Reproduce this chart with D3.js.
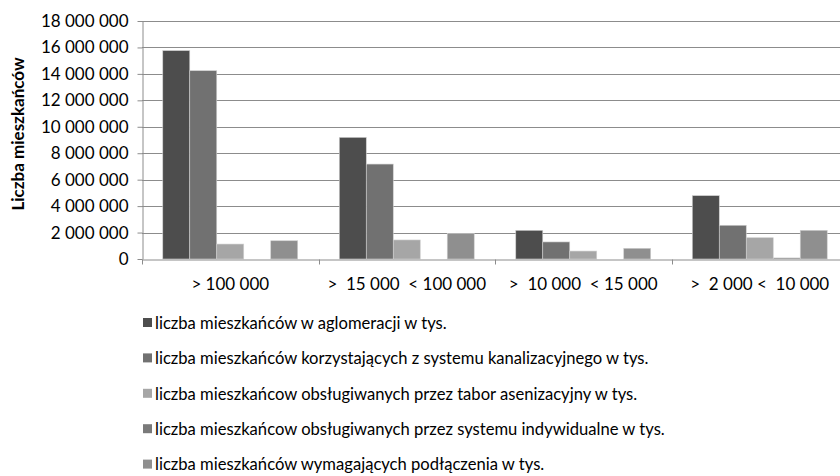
<!DOCTYPE html>
<html>
<head>
<meta charset="utf-8">
<script src="https://cdn.jsdelivr.net/npm/d3@7"></script>
<style>
  body { margin: 0; background: #fff; }
  svg { display: block; font-family: Lato, "Open Sans", sans-serif; }
  text { white-space: pre; }
</style>
</head>
<body>
<div id="chart"></div>
<script>
// categories and series
const categories = ['> 100 000', '>  15 000  < 100 000', '>  10 000  < 15 000', '>  2 000 <  10 000'];
const series_names = [
    'liczba mieszkańców w aglomeracji w tys.',
    'liczba mieszkańców korzystających z systemu kanalizacyjnego w tys.',
    'liczba mieszkańcow obsługiwanych przez tabor asenizacyjny w tys.',
    'liczba mieszkańcow obsługiwanych przez systemu indywidualne w tys.',
    'liczba mieszkańców wymagających podłączenia w tys.'
];
const aglomeracja = [15760000, 9200000, 2170000, 4790000];
const kanalizacja = [14240000, 7180000, 1290000, 2550000];
const tabor = [1130000, 1440000, 600000, 1610000];
const indywidualne = [0, 0, 0, 80000];
const podlaczenie = [1380000, 1940000, 810000, 2170000];
const y_ticks = [0, 2000000, 4000000, 6000000, 8000000, 10000000, 12000000, 14000000, 16000000, 18000000];
const colors = ['#4d4d4d', '#717171', '#a6a6a6', '#7a7a7a', '#8f8f8f'];

const all_series = [aglomeracja, kanalizacja, tabor, indywidualne, podlaczenie];

const width = 840, height = 476;
const margin = { top: 21, left: 142, bottom: 217 };
const plot_w = 706; // plot runs past the right edge, as in the picture
const plot_h = height - margin.top - margin.bottom;
const font_size = 17;

const svg = d3.select('#chart').append('svg')
    .attr('width', width)
    .attr('height', height);

const x = d3.scaleBand().domain(categories).range([margin.left, margin.left + plot_w]).paddingInner(0).paddingOuter(0);
const xs = d3.scaleBand().domain(d3.range(5)).range([0, x.bandwidth()]).paddingOuter(0.77).paddingInner(0);
const y = d3.scaleLinear().domain([0, 18000000]).range([margin.top + plot_h, margin.top]);

const fmt = v => d3.format(',')(v).replace(/,/g, ' ');

// gridlines
svg.append('g')
    .selectAll('line')
    .data(y_ticks.slice(1))
    .join('line')
    .attr('x1', margin.left).attr('x2', margin.left + plot_w)
    .attr('y1', d => Math.round(y(d)) + 0.5).attr('y2', d => Math.round(y(d)) + 0.5)
    .attr('stroke', '#8c8c8c').attr('stroke-width', 1);

// bars
const groups = svg.append('g')
    .selectAll('g')
    .data(categories)
    .join('g')
    .attr('transform', d => `translate(${x(d)},0)`);

groups.selectAll('rect')
    .data((d, i) => all_series.map((s, k) => ({ k: k, v: s[i] })))
    .join('rect')
    .attr('x', d => xs(d.k))
    .attr('width', xs.bandwidth())
    .attr('y', d => y(d.v))
    .attr('height', d => y(0) - y(d.v))
    .attr('fill', d => colors[d.k])
    .attr('stroke', '#d0d0d0')
    .attr('stroke-width', 0.6);

// y axis
const yAxis = svg.append('g')
    .attr('transform', `translate(${margin.left + 0.5},0)`)
    .call(d3.axisLeft(y).tickValues(y_ticks).tickFormat(fmt).tickSize(5).tickSizeOuter(0).tickPadding(9));
yAxis.select('.domain').attr('stroke', '#8c8c8c');
yAxis.selectAll('.tick line').attr('stroke', '#8c8c8c');
yAxis.selectAll('.tick text').attr('font-size', font_size).attr('fill', '#000')
    .attr('font-family', 'Lato, "Open Sans", sans-serif');

// x axis
const xAxis = svg.append('g')
    .attr('transform', `translate(0,${Math.round(y(0)) + 0.5})`)
    .call(d3.axisBottom(x).tickSize(0).tickSizeOuter(0).tickPadding(18));
xAxis.select('.domain').attr('stroke', '#8c8c8c');
xAxis.selectAll('.tick text').attr('font-size', font_size).attr('fill', '#000')
    .attr('font-family', 'Lato, "Open Sans", sans-serif');
// category separators
xAxis.append('g')
    .selectAll('line')
    .data(categories)
    .join('line')
    .attr('x1', d => Math.round(x(d)) + 0.5).attr('x2', d => Math.round(x(d)) + 0.5)
    .attr('y1', 0).attr('y2', 5)
    .attr('stroke', '#8c8c8c');

// y axis title
svg.append('text')
    .attr('transform', `translate(24,${margin.top + plot_h / 2 - 6}) rotate(-90)`)
    .attr('text-anchor', 'middle')
    .attr('font-size', font_size)
    .attr('font-weight', 'bold')
    .text('Liczba mieszkańców');

// legend
const legend = svg.append('g')
    .selectAll('g')
    .data(series_names)
    .join('g')
    .attr('transform', (d, i) => `translate(143,${323 + i * 35.4})`);
legend.append('rect')
    .attr('x', 0).attr('y', -5)
    .attr('width', 9).attr('height', 9)
    .attr('fill', (d, i) => colors[i]);
legend.append('text')
    .attr('x', 12).attr('y', 0)
    .attr('dy', '0.35em')
    .attr('font-size', 16.6)
    .attr('fill', '#000')
    .text(d => d);
</script>
</body>
</html>
